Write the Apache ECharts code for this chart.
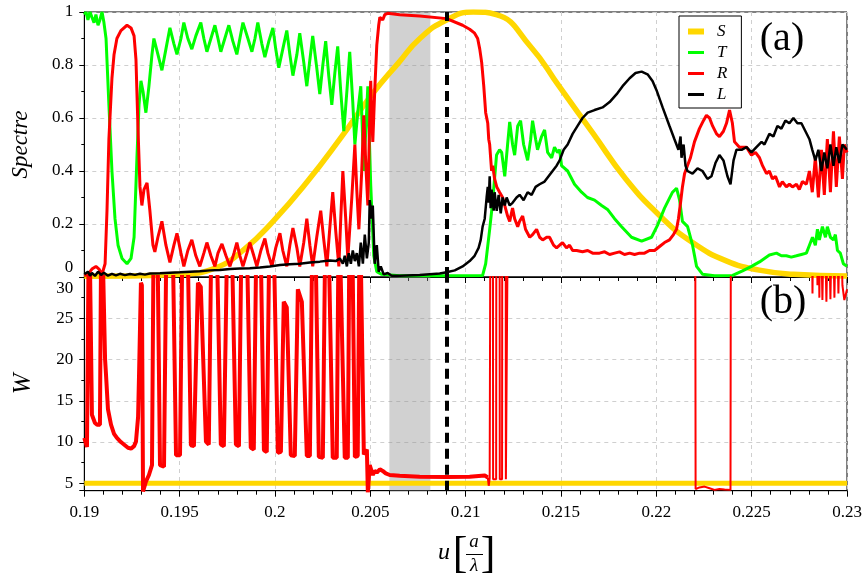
<!DOCTYPE html>
<html><head><meta charset="utf-8">
<script src="https://cdn.jsdelivr.net/npm/echarts@6/dist/echarts.min.js"></script>
<style>html,body{margin:0;padding:0;background:#fff}#c{width:866px;height:579px}</style>
</head><body><div id="c"></div>
<script>
// ---------- DATA ----------
const uS = [0.19,0.1924,0.195,0.1969,0.1984,0.1999,0.2017,0.2034,0.2051,0.2065,0.2076,0.2090,0.2104,0.2116,0.2134,0.2149,0.2167,0.2184,0.2202,0.2219,0.2237,0.2254,0.2272,0.23];
const S  = [0.003,0.004,0.01,0.035,0.105,0.21,0.36,0.52,0.69,0.81,0.90,0.97,1.0,0.99,0.87,0.72,0.54,0.37,0.23,0.13,0.06,0.026,0.01,0.004];

const uT = [0.19,0.19009,0.19019,0.19030,0.19040,0.19051,0.19061,0.19072,0.19082,0.19093,0.19103,0.19114,0.19129,0.19145,0.19161,0.19177,0.19198,0.19224,0.19245,0.19261,0.19276,0.19287,0.19297,0.19308,0.19323,0.19339,0.19355,0.19365,0.19386,0.19407,0.19428,0.19449,0.19470,0.19486,0.19507,0.19522,0.19543,0.19564,0.19585,0.19611,0.19627,0.19643,0.19664,0.19685,0.19701,0.19716,0.19737,0.19758,0.19779,0.19800,0.19816,0.19832,0.19858,0.19879,0.19895,0.19910,0.19931,0.19947,0.19968,0.19989,0.20004,0.20020,0.20041,0.20062,0.20078,0.20094,0.20115,0.20130,0.20151,0.20167,0.20183,0.20198,0.20219,0.20235,0.20251,0.20266,0.20282,0.20298,0.20314,0.20329,0.20345,0.20361,0.20377,0.20392,0.20408,0.20419,0.20434,0.20450,0.20466,0.20476,0.20487,0.20502,0.20518,0.20534,0.20560,0.20654,0.20916,0.21089,0.21105,0.21126,0.21141,0.21162,0.21178,0.21189,0.21205,0.21220,0.21231,0.21246,0.21257,0.21273,0.21288,0.21304,0.21325,0.21341,0.21351,0.21367,0.21377,0.21398,0.21414,0.21430,0.21451,0.21466,0.21482,0.21493,0.21503,0.21535,0.21571,0.21608,0.21639,0.21676,0.21713,0.21744,0.21781,0.21818,0.21870,0.21923,0.21975,0.22006,0.22043,0.22085,0.22106,0.22122,0.22137,0.22164,0.22190,0.22211,0.22243,0.22305,0.22400,0.22452,0.22499,0.22541,0.22567,0.22593,0.22630,0.22656,0.22682,0.22708,0.22735,0.22761,0.22787,0.22803,0.22819,0.22834,0.22845,0.22855,0.22871,0.22887,0.22897,0.22913,0.22929,0.22939,0.22950,0.22965,0.22981,0.23];
const T  = [0.99,1.0,0.97,1.0,0.98,0.96,0.99,0.95,0.97,1.0,0.96,0.90,0.65,0.40,0.22,0.12,0.07,0.05,0.07,0.15,0.45,0.65,0.74,0.70,0.62,0.72,0.84,0.90,0.84,0.78,0.86,0.94,0.88,0.84,0.90,0.96,0.90,0.86,0.91,0.96,0.90,0.85,0.90,0.95,0.90,0.85,0.90,0.95,0.89,0.84,0.90,0.96,0.90,0.85,0.90,0.96,0.88,0.83,0.89,0.94,0.86,0.79,0.86,0.93,0.84,0.76,0.84,0.92,0.81,0.72,0.82,0.91,0.79,0.69,0.80,0.89,0.76,0.65,0.77,0.87,0.70,0.55,0.70,0.85,0.66,0.50,0.62,0.72,0.40,0.55,0.72,0.35,0.08,0.02,0.01,0.005,0.005,0.006,0.05,0.18,0.28,0.46,0.48,0.47,0.38,0.50,0.585,0.50,0.46,0.57,0.59,0.50,0.44,0.52,0.59,0.52,0.48,0.53,0.555,0.47,0.45,0.49,0.47,0.48,0.42,0.40,0.35,0.32,0.30,0.29,0.27,0.255,0.22,0.19,0.15,0.135,0.15,0.195,0.26,0.32,0.335,0.29,0.21,0.19,0.12,0.04,0.01,0.005,0.006,0.023,0.04,0.057,0.07,0.083,0.09,0.08,0.08,0.075,0.08,0.085,0.09,0.12,0.15,0.12,0.18,0.14,0.19,0.15,0.19,0.15,0.14,0.16,0.10,0.09,0.05,0.04];

const uR = [0.19,0.19019,0.19040,0.19061,0.19077,0.19093,0.19109,0.19119,0.19129,0.19145,0.19156,0.19171,0.19192,0.19224,0.19245,0.19261,0.19271,0.19282,0.19292,0.19302,0.19313,0.19329,0.19344,0.19360,0.19370,0.19386,0.19407,0.19428,0.19449,0.19470,0.19486,0.19507,0.19522,0.19543,0.19564,0.19585,0.19606,0.19627,0.19643,0.19664,0.19685,0.19701,0.19722,0.19743,0.19764,0.19785,0.19800,0.19816,0.19832,0.19853,0.19868,0.19889,0.19905,0.19926,0.19947,0.19963,0.19984,0.20004,0.20026,0.20041,0.20062,0.20078,0.20094,0.20115,0.20130,0.20151,0.20167,0.20183,0.20198,0.20219,0.20240,0.20256,0.20272,0.20287,0.20303,0.20319,0.20335,0.20345,0.20356,0.20371,0.20382,0.20403,0.20419,0.20429,0.20440,0.20455,0.20466,0.20476,0.20487,0.20497,0.20502,0.20508,0.20513,0.20523,0.20534,0.20544,0.20550,0.20565,0.20576,0.20591,0.20654,0.20759,0.20900,0.20984,0.21021,0.21047,0.21063,0.21074,0.21084,0.21095,0.21105,0.21116,0.21121,0.21126,0.21131,0.21136,0.21142,0.21152,0.21163,0.21178,0.21194,0.21205,0.21220,0.21231,0.21246,0.21257,0.21273,0.21283,0.21299,0.21314,0.21336,0.21351,0.21372,0.21388,0.21404,0.21425,0.21440,0.21461,0.21477,0.21493,0.21508,0.21529,0.21545,0.21561,0.21582,0.21613,0.21640,0.21666,0.21702,0.21729,0.21755,0.21781,0.21807,0.21833,0.21860,0.21886,0.21912,0.21938,0.21964,0.21991,0.22017,0.22043,0.22069,0.22090,0.22106,0.22116,0.22127,0.22137,0.22148,0.22163,0.22179,0.22200,0.22226,0.22247,0.22263,0.22279,0.22295,0.22316,0.22331,0.22352,0.22368,0.22384,0.22399,0.22410,0.22436,0.22473,0.22499,0.22520,0.22541,0.22557,0.22578,0.22593,0.22609,0.22625,0.22646,0.22661,0.22682,0.22698,0.22714,0.22735,0.22750,0.22766,0.22787,0.22803,0.22818,0.22834,0.22850,0.22866,0.22881,0.22897,0.22913,0.22929,0.22944,0.22960,0.22976,0.22986,0.23];
const R  = [0.005,0.01,0.03,0.04,0.03,0.01,0.05,0.25,0.52,0.75,0.84,0.90,0.93,0.95,0.94,0.91,0.82,0.55,0.34,0.27,0.33,0.355,0.25,0.12,0.095,0.15,0.21,0.12,0.055,0.12,0.165,0.09,0.04,0.10,0.14,0.08,0.04,0.09,0.13,0.08,0.04,0.09,0.125,0.08,0.04,0.09,0.13,0.08,0.04,0.09,0.13,0.08,0.04,0.10,0.145,0.09,0.04,0.11,0.165,0.10,0.04,0.12,0.185,0.11,0.04,0.13,0.22,0.12,0.04,0.15,0.25,0.14,0.04,0.18,0.32,0.17,0.04,0.22,0.40,0.22,0.07,0.30,0.50,0.33,0.18,0.40,0.61,0.43,0.27,0.60,0.74,0.60,0.51,0.70,0.875,0.95,0.98,0.97,0.99,0.995,0.99,0.985,0.975,0.95,0.935,0.92,0.90,0.86,0.81,0.72,0.62,0.58,0.52,0.50,0.45,0.40,0.42,0.37,0.34,0.32,0.30,0.27,0.23,0.21,0.26,0.22,0.19,0.21,0.23,0.18,0.15,0.16,0.18,0.15,0.14,0.15,0.15,0.12,0.11,0.12,0.13,0.11,0.12,0.10,0.10,0.095,0.10,0.09,0.09,0.095,0.085,0.09,0.095,0.085,0.09,0.085,0.09,0.09,0.10,0.10,0.115,0.13,0.14,0.16,0.18,0.22,0.28,0.34,0.39,0.42,0.45,0.51,0.56,0.59,0.61,0.60,0.57,0.54,0.53,0.55,0.58,0.63,0.58,0.51,0.49,0.49,0.46,0.47,0.45,0.42,0.39,0.40,0.37,0.38,0.34,0.36,0.34,0.35,0.34,0.35,0.33,0.36,0.35,0.40,0.32,0.45,0.30,0.48,0.31,0.52,0.32,0.55,0.34,0.53,0.37,0.50,0.47];

const uL = [0.19,0.19009,0.19019,0.19030,0.19040,0.19056,0.19072,0.19088,0.19103,0.19124,0.19145,0.19166,0.19187,0.19213,0.19240,0.19266,0.19292,0.19318,0.19344,0.19397,0.19449,0.19502,0.19554,0.19606,0.19659,0.19711,0.19764,0.19816,0.19868,0.19921,0.19973,0.20026,0.20078,0.20130,0.20183,0.20235,0.20288,0.20319,0.20340,0.20356,0.20366,0.20377,0.20387,0.20398,0.20408,0.20419,0.20429,0.20440,0.20450,0.20461,0.20471,0.20482,0.20492,0.20497,0.20508,0.20513,0.20523,0.20534,0.20544,0.20555,0.20570,0.20591,0.20612,0.20654,0.20759,0.20864,0.20900,0.20943,0.20984,0.21021,0.21047,0.21068,0.21079,0.21089,0.21100,0.21110,0.21116,0.21121,0.21126,0.21131,0.21136,0.21147,0.21152,0.21163,0.21173,0.21184,0.21194,0.21205,0.21215,0.21231,0.21246,0.21267,0.21283,0.21304,0.21325,0.21346,0.21367,0.21388,0.21414,0.21435,0.21456,0.21477,0.21493,0.21514,0.21535,0.21561,0.21587,0.21613,0.21640,0.21676,0.21718,0.21755,0.21792,0.21823,0.21860,0.21891,0.21923,0.21954,0.21980,0.22001,0.22033,0.22069,0.22095,0.22116,0.22127,0.22132,0.22143,0.22153,0.22163,0.22190,0.22216,0.22242,0.22268,0.22289,0.22310,0.22331,0.22352,0.22373,0.22389,0.22405,0.22420,0.22447,0.22473,0.22499,0.22525,0.22552,0.22567,0.22593,0.22614,0.22635,0.22656,0.22677,0.22698,0.22719,0.22740,0.22761,0.22782,0.22803,0.22818,0.22834,0.22850,0.22866,0.22881,0.22897,0.22913,0.22929,0.22944,0.22960,0.22976,0.23];
const L  = [0.01,0.005,0.02,0.005,0.015,0.004,0.02,0.008,0.016,0.005,0.012,0.006,0.012,0.007,0.011,0.008,0.012,0.009,0.013,0.014,0.016,0.018,0.02,0.022,0.025,0.026,0.03,0.032,0.033,0.036,0.04,0.045,0.048,0.05,0.055,0.058,0.062,0.06,0.07,0.05,0.08,0.04,0.09,0.05,0.10,0.06,0.09,0.04,0.13,0.05,0.16,0.07,0.13,0.29,0.22,0.27,0.05,0.12,0.02,0.04,0.01,0.015,0.005,0.005,0.008,0.013,0.018,0.025,0.04,0.06,0.08,0.11,0.14,0.19,0.22,0.30,0.34,0.28,0.38,0.26,0.33,0.25,0.32,0.25,0.31,0.24,0.30,0.27,0.30,0.27,0.28,0.30,0.31,0.29,0.32,0.31,0.34,0.35,0.36,0.38,0.40,0.42,0.44,0.48,0.50,0.54,0.57,0.60,0.62,0.63,0.64,0.66,0.69,0.72,0.75,0.77,0.775,0.765,0.74,0.705,0.64,0.57,0.52,0.48,0.53,0.45,0.50,0.42,0.40,0.39,0.41,0.40,0.37,0.38,0.43,0.46,0.44,0.38,0.35,0.44,0.48,0.48,0.49,0.47,0.49,0.51,0.50,0.54,0.53,0.57,0.56,0.59,0.58,0.60,0.58,0.58,0.55,0.52,0.48,0.44,0.48,0.40,0.47,0.41,0.50,0.42,0.49,0.43,0.50,0.48];

// W panel (values above 30 leave the panel and are clipped)
const uW1 = [0.19,0.19014,0.19025,0.19032,0.19040,0.19056,0.19067,0.19082,0.19090,0.19098,0.19109,0.19114,0.19124,0.19140,0.19156,0.19171,0.19192,0.19208,0.19229,0.19245,0.19261,0.19271,0.19282,0.19287,0.19297,0.19302,0.19308,0.19323,0.19339,0.19355,0.19365,0.19381,0.19397,0.19418,0.19433,0.19460,0.19481,0.19502,0.19517,0.19538,0.19559,0.19575,0.19596,0.19611,0.19638,0.19653,0.19669,0.19690,0.19716,0.19732,0.19753,0.19769,0.19795,0.19811,0.19827,0.19848,0.19873,0.19889,0.19905,0.19921,0.19942,0.19957,0.19973,0.19989,0.20015,0.20031,0.20046,0.20062,0.20083,0.20104,0.20120,0.20141,0.20167,0.20183,0.20198,0.20209,0.20230,0.20251,0.20266,0.20277,0.20303,0.20324,0.20335,0.20345,0.20366,0.20382,0.20392,0.20403,0.20419,0.20434,0.20445,0.20455,0.20466,0.20476,0.20482,0.20487,0.20497,0.20513,0.20523,0.20534,0.20550,0.20565,0.20581,0.20602,0.20654,0.20759,0.20900,0.21021,0.21100,0.21116];
const W1  = [10.5,9.4,40,40,13.3,12.3,12.1,12.1,40,40,20,18.1,14,12.1,11,10.5,10,9.7,9.3,9.2,9.5,10.05,13,18.1,29.3,29,4.0,5.2,6.0,7.2,40,40,7.2,7.0,40,40,8.4,8.4,40,40,9.6,9.5,29.3,28.8,10.05,9.7,40,40,9.7,9.5,40,40,9.7,9.5,40,40,9.3,9.1,40,40,9.0,8.8,40,40,8.7,8.8,27.0,26.3,8.4,8.3,28.5,27.0,8.3,8.3,40,40,8.2,8.1,40,40,8.1,8.1,40,40,8.1,8.1,40,40,8.2,8.3,40,40,8.5,8.7,9.1,3.9,7.2,6.0,6.5,6.3,6.7,6.5,6.2,6.0,5.9,5.8,5.75,5.8,5.95,5.7];
const uW2 = [0.21116,0.21121,0.21126,0.21130,0.21143,0.21144,0.21160,0.21161,0.21178,0.21179,0.21191,0.21192,0.21210,0.21211,0.21220,0.21222,0.22204,0.22206,0.22226,0.22253,0.22279,0.22305,0.22331,0.22358,0.22389,0.22391,0.22814,0.22819,0.22824,0.22840,0.22845,0.22850,0.22855,0.22861,0.22871,0.22881,0.22892,0.22902,0.22913,0.22924,0.22934,0.22944,0.22955,0.22965,0.22976,0.22986,0.23];
const W2  = [5.7,4.7,5.6,40,40,5.5,5.5,40,40,5.5,5.5,40,40,5.5,5.5,40,40,4.3,4.5,4.6,4.4,4.2,4.3,4.25,4.2,40,40,28,40,40,29,40,27.5,40,27.2,40,27.0,40,27.3,40,27.5,40,28,40,29,27.2,28.5];
const uS5 = [0.19,0.23];
const S5  = [5,5];

const xTickStep = 0.005;
const shadedBand = [0.206, 0.20815];
const dashedAt = 0.209;
const legendNames = ['S','T','R','L'];

// ---------- CHART ----------
const zip = (xs, ys) => xs.map((x, i) => [x, ys[i]]);
const FONT = 'Liberation Serif';
const chart = echarts.init(document.getElementById('c'), null, {renderer: 'canvas'});

const gridLine = {show: true, lineStyle: {color: '#cfcfcf', type: [4, 4], width: 1}};
const axisLine = {show: true, onZero: false, lineStyle: {color: '#000', width: 1}};
const lbl = {fontFamily: FONT, fontSize: 17, color: '#000'};

function xAxisCfg(grid, showLabels) {
  return {
    type: 'value', gridIndex: grid, min: 0.19, max: 0.23, interval: xTickStep,
    axisLine, splitLine: gridLine,
    axisTick: {show: true, length: 6, lineStyle: {color: '#000'}},
    minorTick: {show: true, splitNumber: 5, length: 4, lineStyle: {color: '#000'}},
    axisLabel: Object.assign({show: showLabels, margin: 13}, lbl)
  };
}
function overlay(xi, yi) {
  return {
    type: 'line', xAxisIndex: xi, yAxisIndex: yi, data: [], z: 10, silent: true,
    markArea: {silent: true, itemStyle: {color: 'rgba(146,146,146,0.42)'},
      data: [[{xAxis: shadedBand[0]}, {xAxis: shadedBand[1]}]]},
    markLine: {silent: true, precision: 6, symbol: ['none', 'none'], label: {show: false},
      lineStyle: {color: '#000', width: 4, type: [10, 6]},
      data: [{xAxis: dashedAt}]}
  };
}
function line(name, xi, yi, xs, ys, color, width, z, smooth) {
  return {
    name, type: 'line', xAxisIndex: xi, yAxisIndex: yi, data: zip(xs, ys),
    showSymbol: false, symbol: 'none', smooth: !!smooth, z, clip: true,
    color, itemStyle: {color}, lineStyle: {color, width}, emphasis: {disabled: true}
  };
}

const option = {
  animation: false,
  backgroundColor: '#fff',
  grid: [
    {left: 84.3, top: 12, width: 762.7, height: 265, show: true, borderColor: '#000', borderWidth: 1},
    {left: 84.3, top: 277, width: 762.7, height: 213.7, show: true, borderColor: '#000', borderWidth: 1}
  ],
  xAxis: [xAxisCfg(0, false), xAxisCfg(1, true)],
  yAxis: [
    {type: 'value', gridIndex: 0, min: 0, max: 1, interval: 0.2,
     axisLine, splitLine: gridLine,
     axisTick: {show: true, length: 5, lineStyle: {color: '#000'}},
     minorTick: {show: true, splitNumber: 2, length: 3, lineStyle: {color: '#000'}},
     axisLabel: Object.assign({margin: 11,
       formatter: v => v === 0 ? '{lo|0}' : String(+v.toFixed(3)),
       rich: {lo: {fontFamily: FONT, fontSize: 17, color: '#000', padding: [0, 0, 18, 0]}}}, lbl),
     name: 'Spectre', nameLocation: 'middle', nameGap: 52,
     nameTextStyle: {fontFamily: FONT, fontStyle: 'italic', fontSize: 23, color: '#000'}},
    {type: 'value', gridIndex: 1, min: 4.1, max: 30, splitNumber: 5,
     axisLine, splitLine: gridLine,
     axisTick: {show: true, length: 5, lineStyle: {color: '#000'}},
     minorTick: {show: true, splitNumber: 2, length: 3, lineStyle: {color: '#000'}},
     axisLabel: Object.assign({margin: 11,
       formatter: v => {
         if (Math.abs(v - Math.round(v / 5) * 5) > 1e-6) return '';
         return Math.round(v) === 30 ? '{hi|30}' : String(Math.round(v));
       },
       rich: {hi: {fontFamily: FONT, fontSize: 17, color: '#000', padding: [24, 0, 0, 0]}}}, lbl),
     name: 'W', nameLocation: 'middle', nameGap: 48,
     nameTextStyle: {fontFamily: FONT, fontStyle: 'italic', fontSize: 25, color: '#000'}}
  ],
  legend: {
    data: [
      {name: 'S', icon: 'path://M0,0H16V6H0Z'},
      {name: 'T', icon: 'path://M0,0H16V3H0Z'},
      {name: 'R', icon: 'path://M0,0H16V3H0Z'},
      {name: 'L', icon: 'path://M0,0H16V3H0Z'}
    ],
    orient: 'vertical', left: 679, top: 16, itemWidth: 16, itemHeight: 6, itemGap: 4,
    padding: [7, 14, 5, 9], borderColor: '#000', borderWidth: 1, borderRadius: 0,
    backgroundColor: '#fff', selectedMode: false,
    textStyle: {fontFamily: FONT, fontStyle: 'italic', fontSize: 17, color: '#000', padding: [0, 0, 0, 8]}
  },
  series: [
    line('S', 0, 0, uS, S, '#ffd700', 5.5, 2, true),
    line('T', 0, 0, uT, T, '#00ff00', 3, 3),
    line('R', 0, 0, uR, R, '#ff0000', 3, 4),
    line('L', 0, 0, uL, L, '#000000', 2.5, 5),
    overlay(0, 0),
    line('S5', 1, 1, uS5, S5, '#ffd700', 5, 2),
    line('W1', 1, 1, uW1, W1, '#ff0000', 4, 4),
    line('W2', 1, 1, uW2, W2, '#ff0000', 2, 4),
    overlay(1, 1)
  ],
  graphic: [
    {type: 'text', x: 782, y: 39, z: 20, style: {text: '(a)', font: '40px "Liberation Serif"', textAlign: 'center', textVerticalAlign: 'middle', fill: '#000'}},
    {type: 'text', x: 783, y: 302, z: 20, style: {text: '(b)', font: '40px "Liberation Serif"', textAlign: 'center', textVerticalAlign: 'middle', fill: '#000'}},
    {type: 'text', x: 444, y: 553, style: {text: 'u', font: 'italic 24px "Liberation Serif"', textAlign: 'center', textVerticalAlign: 'middle', fill: '#000'}},
    {type: 'text', x: 460, y: 555, style: {text: '[', font: '44px "Liberation Serif"', textAlign: 'center', textVerticalAlign: 'middle', fill: '#000'}},
    {type: 'text', x: 474, y: 542, style: {text: 'a', font: 'italic 19px "Liberation Serif"', textAlign: 'center', textVerticalAlign: 'middle', fill: '#000'}},
    {type: 'line', shape: {x1: 466, y1: 554.5, x2: 483, y2: 554.5}, style: {stroke: '#000', lineWidth: 1}},
    {type: 'text', x: 474, y: 566, style: {text: 'λ', font: 'italic 19px "Liberation Serif"', textAlign: 'center', textVerticalAlign: 'middle', fill: '#000'}},
    {type: 'text', x: 488, y: 555, style: {text: ']', font: '44px "Liberation Serif"', textAlign: 'center', textVerticalAlign: 'middle', fill: '#000'}}
  ]
};
chart.setOption(option);
</script></body></html>
